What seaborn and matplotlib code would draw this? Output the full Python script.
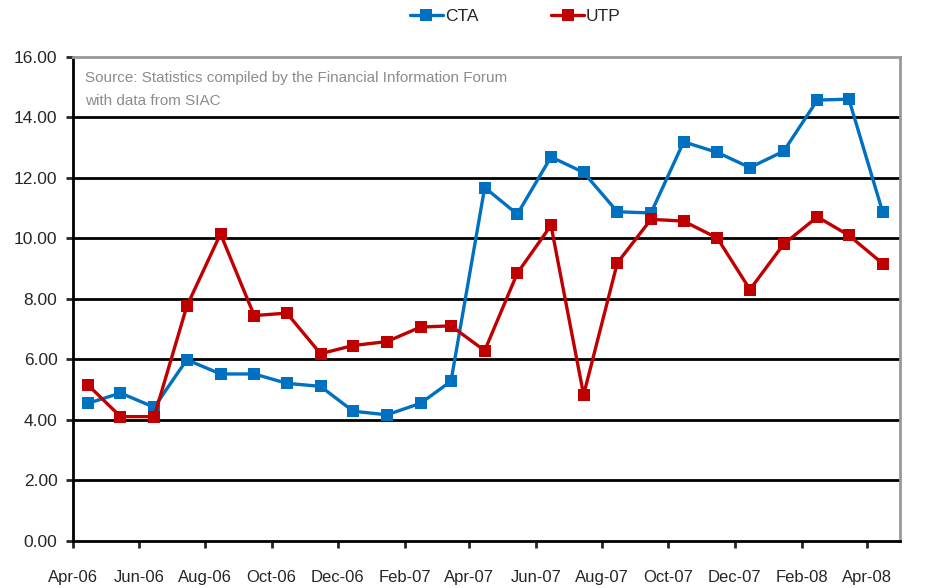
import pandas as pd
import matplotlib
matplotlib.use("Agg")
import matplotlib.pyplot as plt
import matplotlib.dates as mdates
import seaborn as sns

# monthly values, Apr-06 .. Apr-08
months = ["2006-04", "2006-05", "2006-06", "2006-07", "2006-08", "2006-09",
          "2006-10", "2006-11", "2006-12", "2007-01", "2007-02", "2007-03",
          "2007-04", "2007-05", "2007-06", "2007-07", "2007-08", "2007-09",
          "2007-10", "2007-11", "2007-12", "2008-01", "2008-02", "2008-03",
          "2008-04"]
cta = [4.55, 4.89, 4.42, 5.99, 5.52, 5.52, 5.21, 5.11, 4.29, 4.17, 4.55, 5.28,
       11.68, 10.80, 12.69, 12.18, 10.88, 10.84, 13.19, 12.84, 12.34, 12.88,
       14.57, 14.60, 10.88]
utp = [5.16, 4.11, 4.11, 7.76, 10.15, 7.45, 7.53, 6.19, 6.46, 6.59, 7.07, 7.11,
       6.29, 8.85, 10.43, 4.83, 9.19, 10.63, 10.57, 10.01, 8.31, 9.81, 10.71,
       10.10, 9.17]
series_names = ["CTA", "UTP"]
series_colors = ["#0070C0", "#C00000"]
y_ticks = [0, 2, 4, 6, 8, 10, 12, 14, 16]
source_note = "Source: Statistics compiled by the Financial Information Forum\nwith data from SIAC"

sns.set_style("white")
plt.rcParams["font.family"] = ["Liberation Sans", "DejaVu Sans"]

# points sit in the middle of each month
dates = pd.to_datetime(months) + pd.Timedelta(days=14)
df = pd.DataFrame({"date": list(dates) * 2,
                   "value": cta + utp,
                   "series": ["CTA"] * len(cta) + ["UTP"] * len(utp)})

fig = plt.figure(figsize=(9.28, 5.88), dpi=100)
ax = fig.add_axes([0.0783, 0.0799, 0.8915, 0.8235])

sns.lineplot(data=df, x="date", y="value", hue="series", hue_order=series_names,
             palette=series_colors, marker="s", markersize=8, markeredgewidth=0,
             linewidth=2.4, ax=ax)

ax.set_xlim(pd.Timestamp("2006-04-01"), pd.Timestamp("2008-05-01"))
ax.set_ylim(0, 16)
ax.set_yticks(y_ticks)
ax.set_yticklabels([f"{v:.2f}" for v in y_ticks])
ax.xaxis.set_major_locator(mdates.MonthLocator(bymonth=[2, 4, 6, 8, 10, 12]))
ax.xaxis.set_major_formatter(mdates.DateFormatter("%b-%y"))
ax.set_xlabel("")
ax.set_ylabel("")

for y in y_ticks[1:-1]:
    ax.axhline(y, color="black", lw=2, zorder=0)

ax.spines["left"].set_color("black")
ax.spines["left"].set_linewidth(2)
ax.spines["bottom"].set_color("black")
ax.spines["bottom"].set_linewidth(2)
ax.spines["top"].set_color("#999999")
ax.spines["top"].set_linewidth(2)
ax.spines["right"].set_color("#999999")
ax.spines["right"].set_linewidth(2)

ax.tick_params(axis="y", direction="out", length=5, width=2, left=True,
               labelsize=12.5, pad=6)
ax.tick_params(axis="x", direction="out", length=5, width=2, bottom=True,
               labelsize=12, pad=16)

ax.text(0.015, 0.97, source_note, transform=ax.transAxes, ha="left", va="top",
        fontsize=11, color="#8c8c8c", linespacing=1.75)

ax.legend(loc="center", bbox_to_anchor=(0.535, 1.084), ncol=2, frameon=False,
          fontsize=12.5, handlelength=1.9, handletextpad=0.1, columnspacing=4.2,
          borderaxespad=0)

fig.savefig("out.png", dpi=100)
